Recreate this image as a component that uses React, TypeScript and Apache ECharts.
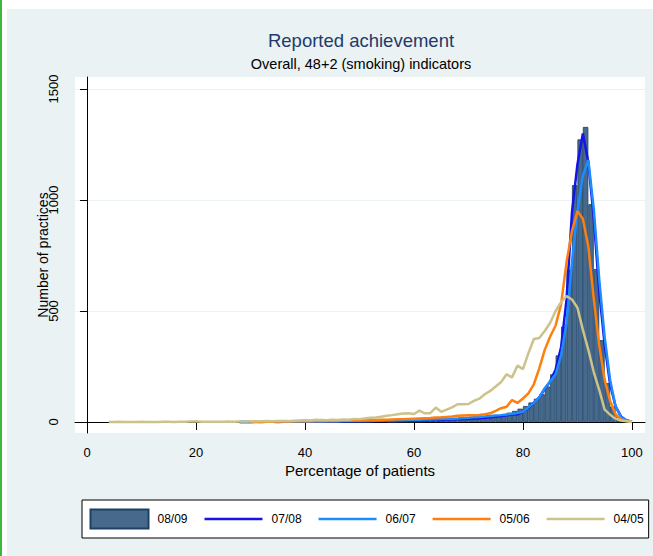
import React, { useEffect, useRef } from "react";
import * as echarts from "echarts";

// Percentage of patients (x) -> number of practices (y)
const hist0809Start = 55; // bins [k, k+1)
const hist0809 = [
  1, 1, 2, 2, 2,
  3, 3, 4, 4, 5, 6, 7, 8, 10, 12,
  14, 16, 19, 22, 26, 30, 35, 42, 50, 60,
  72, 88, 105, 125, 160, 215, 300, 430, 685, 1067,
  1273, 1329, 981, 689, 369, 175, 70, 25, 8, 2,
];

const line0708Start = 28;
const line0708 = [
  0, 0, 0, 1, 0, 1, 1, 0, 1, 1,
  1, 1, 1, 2, 1, 2, 2, 2, 2, 3,
  2, 3, 3, 3, 4, 4, 4, 5, 5, 5,
  6, 6, 6, 7, 7, 8, 9, 9, 10, 11,
  12, 13, 14, 16, 17, 19, 21, 24, 27, 30,
  34, 35, 46, 62, 86, 111, 148, 183, 237, 337, 550, 945,
  1160, 1300, 1170, 918, 588, 348, 170, 70, 25, 7, 1,
];

const line0607Start = 28;
const line0607 = [
  0, 0, 1, 0, 1, 1, 1, 1, 1, 2,
  1, 2, 2, 2, 3, 2, 3, 3, 3, 4,
  4, 4, 5, 5, 5, 6, 6, 7, 7, 8,
  8, 9, 9, 10, 11, 11, 12, 13, 14, 15,
  16, 18, 19, 21, 23, 25, 27, 29, 31, 34,
  37, 40, 46, 65, 86, 112, 152, 182, 215, 300, 445, 720,
  950, 1110, 1180, 960, 643, 382, 189, 70, 22, 8, 1,
];

const line0506Start = 30;
const line0506 = [
  1, 1, 1, 2, 1, 2, 2, 2, 3, 3,
  4, 3, 4, 4, 5, 4, 5, 6, 6, 7,
  7, 8, 9, 9, 10, 10, 11, 12, 13, 14,
  15, 16, 17, 18, 20, 21, 23, 25, 28, 29,
  30, 31, 32, 35, 39, 50, 62, 69, 99, 86,
  106, 129, 170, 242, 325, 385, 435, 530, 720, 860,
  950, 915, 790, 555, 345, 190, 95, 35, 12, 4, 1,
];

const line0405Start = 4;
const line0405 = [
  0, 0, 1, 0, 0, 0, 1, 0, 0, 0, 1, 1, 0, 1, 1, 2, 3, 1, 1, 1, 1, 1, 2, 1, 2,
  2, 3, 3, 3, 4, 3, 4, 5, 4, 6, 7, 8,
  7, 10, 9, 8, 10, 9, 11, 10, 14, 13,
  16, 19, 20, 24, 28, 31, 35, 38, 39, 36,
  51, 39, 40, 65, 46, 56, 66, 80, 80, 81,
  95, 105, 125, 140, 160, 180, 215, 201, 254, 238,
  310, 374, 378, 410, 447, 500, 540, 567, 552, 515,
  415, 325, 225, 145, 56, 33, 15, 7, 3, 1,
];

const xTicks = [0, 20, 40, 60, 80, 100];
const yTicks = [0, 500, 1000, 1500];
const seriesNames = ["08/09", "07/08", "06/07", "05/06", "04/05"];

const FONT = "'Liberation Sans', Arial, Helvetica, sans-serif";
// legend line icon: thin horizontal bar, kept inside a 58x19 box
const LINE_ICON = "path://M0,0L0,0M58,19L58,19M0,8.25L58,8.25L58,10.75L0,10.75Z";

function toPoints(start: number, vals: number[]) {
  return vals.map((v, i) => [start + i, v]);
}
function toBars(start: number, vals: number[]) {
  return vals.map((v, i) => [start + i + 0.5, v]);
}

export default function App() {
  const ref = useRef<HTMLDivElement>(null);
  useEffect(() => {
    if (!ref.current) return;
    const chart = echarts.init(ref.current, undefined, { renderer: "svg" });
    const lineSeries = (name: string, start: number, vals: number[], color: string) => ({
      name,
      type: "line",
      data: toPoints(start, vals),
      symbol: "none",
      showSymbol: false,
      lineStyle: { color, width: 2.5 },
      itemStyle: { color },
      z: 3,
    });
    chart.setOption({
      animation: false,
      textStyle: { fontFamily: FONT },
      title: [
        {
          text: "Reported achievement",
          left: 361,
          top: 31,
          textAlign: "center",
          padding: 0,
          textStyle: { fontSize: 18.5, fontWeight: "normal", color: "#1f3a6b", fontFamily: FONT },
        },
        {
          text: "Overall, 48+2 (smoking) indicators",
          left: 361,
          top: 56,
          textAlign: "center",
          padding: 0,
          textStyle: { fontSize: 14.5, fontWeight: "normal", color: "#000", fontFamily: FONT },
        },
      ],
      grid: {
        left: 75,
        top: 77,
        width: 570,
        height: 356,
        show: true,
        backgroundColor: "#ffffff",
        borderWidth: 0,
        containLabel: false,
      },
      legend: {
        data: [
          { name: "08/09", icon: "rect" },
          { name: "07/08", icon: LINE_ICON },
          { name: "06/07", icon: LINE_ICON },
          { name: "05/06", icon: LINE_ICON },
          { name: "04/05", icon: LINE_ICON },
        ],
        left: 82,
        top: 500,
        orient: "horizontal",
        itemWidth: 58,
        itemHeight: 19,
        itemGap: 17,
        padding: [8.5, 5, 8.5, 7.5],
        backgroundColor: "#ffffff",
        borderColor: "#000000",
        borderWidth: 1,
        textStyle: { fontSize: 12, color: "#000", fontFamily: FONT, padding: [0, 0, 0, 4] },
      },
      xAxis: {
        type: "value",
        min: -2.2,
        max: 102.4,
        name: "Percentage of patients",
        nameLocation: "middle",
        nameGap: 30,
        nameMoveOverlap: false,
        nameTextStyle: { fontSize: 15, color: "#000", fontFamily: FONT },
        axisLine: { show: true, lineStyle: { color: "#000", width: 1 } },
        axisTick: { show: true, customValues: xTicks, length: 8, lineStyle: { color: "#000", width: 1 } },
        axisLabel: { customValues: xTicks, fontSize: 13, color: "#000", margin: 13, fontFamily: FONT },
        splitLine: { show: false },
      },
      yAxis: {
        type: "value",
        min: -49.5,
        max: 1554,
        name: "Number of practices",
        nameLocation: "middle",
        nameGap: 25,
        nameMoveOverlap: false,
        nameTextStyle: { fontSize: 14, color: "#000", fontFamily: FONT },
        axisLine: { show: true, lineStyle: { color: "#000", width: 1 } },
        axisTick: { show: true, customValues: yTicks, length: 7, lineStyle: { color: "#000", width: 1 } },
        axisLabel: {
          customValues: yTicks,
          fontSize: 13,
          color: "#000",
          margin: 15,
          rotate: 90,
          fontFamily: FONT,
          formatter: (v: number) => String(v),
        },
        splitLine: { show: true, lineStyle: { color: "#eaf2f3", width: 1 } },
      },
      series: [
        {
          name: seriesNames[0],
          type: "bar",
          data: toBars(hist0809Start, hist0809),
          barWidth: 5.45,
          itemStyle: { color: "#46698c", borderColor: "#1d4165", borderWidth: 0.8 },
          z: 2,
        },
        lineSeries(seriesNames[1], line0708Start, line0708, "#1414e6"),
        lineSeries(seriesNames[2], line0607Start, line0607, "#1e8cff"),
        lineSeries(seriesNames[3], line0506Start, line0506, "#ff7f0e"),
        lineSeries(seriesNames[4], line0405Start, line0405, "#ccc28c"),
      ],
    });
    return () => chart.dispose();
  }, []);

  return (
    <div style={{ position: "fixed", left: 0, top: 0, width: 653, height: 556, background: "#ffffff", overflow: "hidden" }}>
      <div style={{ position: "absolute", left: 0, top: 0, width: 2, height: 556, background: "#3cb83c" }} />
      <div style={{ position: "absolute", left: 7, top: 9, right: 0, bottom: 0, background: "#eaf2f3" }} />
      <div ref={ref} style={{ position: "absolute", left: 0, top: 0, width: 653, height: 556 }} />
    </div>
  );
}
